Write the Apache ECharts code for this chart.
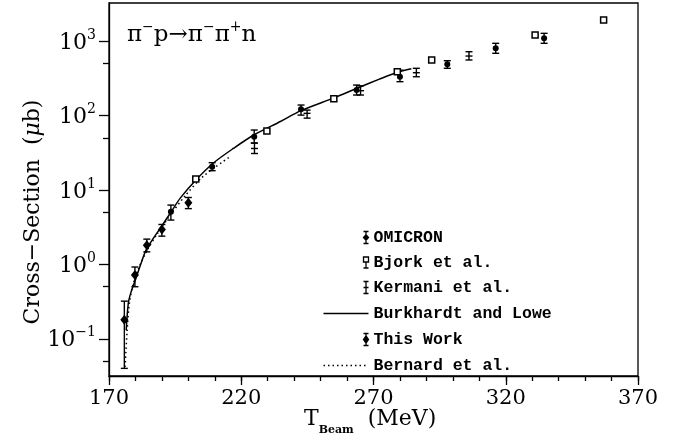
<!DOCTYPE html>
<html><head><meta charset="utf-8">
<script src="https://cdn.jsdelivr.net/npm/echarts@6/dist/echarts.min.js"></script>
<style>html,body{margin:0;padding:0;background:#fff}#c{width:683px;height:439px}</style>
</head><body><div id="c"></div>
<script>
// ---- axis ticks ----
const xTicks = [170, 220, 270, 320, 370];
const yTicks = [0.1, 1, 10, 100, 1000];
const yTickExp = ['\u22121', '0', '1', '2', '3'];
const yMinorTicks = [0.05, 0.5, 5, 50, 500];

// ---- OMICRON (filled dots with error bars) ----
const omicronT  = [193.4, 209.0, 224.9, 242.6, 263.6, 280.0, 297.9, 316.2, 334.5];
const omicronY  = [5.1, 20.4, 51.7, 121, 219, 331, 487, 797, 1087];
const omicronLo = [3.93, 18.1, 42.6, 101, 188, 284, 430, 684, 931];
const omicronHi = [6.25, 23.2, 63.7, 138, 256, 406, 544, 931, 1268];

// ---- Bjork et al. (open squares) ----
const bjorkT = [202.8, 229.7, 255.0, 279.0, 292.0, 331.1, 357.0];
const bjorkY = [14.0, 62, 167, 387, 556, 1204, 1914];

// ---- Kermani et al. (error bars with centre dash) ----
const kermaniT  = [225.0, 244.9, 265.1, 286.2, 306.1];
const kermaniY  = [36.0, 106.7, 215, 375, 628];
const kermaniLo = [30.8, 92, 188, 331, 556];
const kermaniHi = [42.5, 118, 250, 430, 718];

// ---- This Work (diamonds with error bars) ----
const thisWorkT  = [175.8, 179.8, 184.3, 190.0, 200.0];
const thisWorkY  = [0.18, 0.72, 1.8, 2.94, 6.7];
const thisWorkLo = [0.040, 0.50, 1.47, 2.39, 5.6];
const thisWorkHi = [0.32, 0.92, 2.18, 3.43, 7.9];

// ---- Burkhardt and Lowe (solid curve) ----
const burkT = [176.5, 177.3, 178.3, 180, 182, 184, 187, 190, 193.4, 197, 203.2, 209.5, 217, 224.9, 234.8, 242.6, 255, 263.8, 272, 279, 284.3];
const burkY = [0.13, 0.30, 0.42, 0.62, 1.0, 1.55, 2.3, 3.3, 5.0, 7.8, 14, 23, 36, 55, 83, 116, 172, 232, 305, 380, 425];

// ---- Bernard et al. (dotted curve) ----
const bernT = [176.1, 176.8, 177.7, 179, 181, 184, 188, 193, 199, 205, 210, 215.8];
const bernY = [0.042, 0.12, 0.30, 0.52, 0.85, 1.45, 2.5, 4.5, 8.5, 14.5, 20, 28];

const serif = 'DejaVu Serif';
const zip2 = (a, b) => a.map((v, i) => [v, b[i]]);
const zipErr = (t, lo, hi, mid) => t.map((v, i) => [v, lo[i], hi[i], mid ? mid[i] : hi[i]]);

function errRender(withMid) {
  return function (params, api) {
    const x = api.value(0), lo = api.value(1), hi = api.value(2), mid = api.value(3);
    const pHi = api.coord([x, hi]), pLo = api.coord([x, lo]);
    const w = 3.5;
    const style = { stroke: '#000', lineWidth: 1.4, fill: null };
    const children = [
      { type: 'line', shape: { x1: pHi[0], y1: pHi[1], x2: pLo[0], y2: pLo[1] }, style },
      { type: 'line', shape: { x1: pHi[0] - w, y1: pHi[1], x2: pHi[0] + w, y2: pHi[1] }, style },
      { type: 'line', shape: { x1: pLo[0] - w, y1: pLo[1], x2: pLo[0] + w, y2: pLo[1] }, style }
    ];
    if (withMid) {
      const pm = api.coord([x, mid]);
      children.push({ type: 'line', shape: { x1: pm[0] - w, y1: pm[1], x2: pm[0] + w, y2: pm[1] }, style });
    }
    return { type: 'group', children };
  };
}

const iconBase = 'path://M0,0M45,14M40,1L45,1M42.5,1L42.5,13M40,13L45,13';
const lineIcon = 'path://M0,0M45,14M0,7L45,7';
const blackIcon = { color: '#000', borderColor: '#000', borderWidth: 1.3 };

const chart = echarts.init(document.getElementById('c'), null, { renderer: 'canvas' });
chart.setOption({
  animation: false,
  backgroundColor: '#fff',
  grid: { left: 109, right: 45, top: 3, bottom: 63, show: true, borderColor: '#000', borderWidth: 1.3, backgroundColor: 'transparent' },
  xAxis: [
    {
      type: 'value', min: 170, max: 370, position: 'bottom',
      axisLine: { show: true, lineStyle: { color: '#000', width: 1.3 } },
      axisTick: { show: true, inside: false, length: 9, customValues: xTicks, lineStyle: { color: '#000', width: 1.3 } },
      axisLabel: { customValues: xTicks, margin: 12, color: '#000', fontFamily: serif, fontSize: 21 },
      splitLine: { show: false }
    },
    {
      type: 'value', min: 170, max: 370, interval: 10, position: 'bottom',
      axisLine: { show: false },
      axisTick: { show: true, inside: false, length: 5, lineStyle: { color: '#000', width: 1.3 } },
      axisLabel: { show: false },
      splitLine: { show: false }
    }
  ],
  yAxis: [
    {
      type: 'log', logBase: 10, min: 0.0316, max: 3240, position: 'left',
      axisLine: { show: true, lineStyle: { color: '#000', width: 1.3 } },
      axisTick: { show: true, inside: false, length: 10, customValues: yTicks, lineStyle: { color: '#000', width: 1.3 } },
      axisLabel: {
        customValues: yTicks, margin: 13, color: '#000',
        formatter: function (v) {
          const i = yTicks.findIndex(t => Math.abs(Math.log10(t) - Math.log10(v)) < 1e-6);
          return '{b|10}{s|' + (i >= 0 ? yTickExp[i] : '') + '}';
        },
        rich: {
          b: { fontFamily: serif, fontSize: 22, color: '#000', lineHeight: 26, verticalAlign: 'bottom' },
          s: { fontFamily: serif, fontSize: 14, color: '#000', lineHeight: 26, verticalAlign: 'top' }
        }
      },
      splitLine: { show: false }
    },
    {
      type: 'log', logBase: 10, min: 0.0316, max: 3240, position: 'left',
      axisLine: { show: false },
      axisTick: { show: true, inside: false, length: 6, customValues: yMinorTicks, lineStyle: { color: '#000', width: 1.3 } },
      axisLabel: { show: false },
      splitLine: { show: false }
    }
  ],
  legend: {
    orient: 'vertical', left: 316, top: 224, itemWidth: 45, itemHeight: 14, itemGap: 8,
    textStyle: { fontFamily: 'Liberation Mono', fontSize: 16.5, fontWeight: 'bold', color: '#000', lineHeight: 16 },
    selectedMode: false,
    data: [
      { name: 'OMICRON', icon: iconBase + 'M42.5,4.3L45,7L42.5,9.7L40,7Z', itemStyle: blackIcon },
      { name: 'Bjork et al.', icon: 'path://M0,0M45,14M40,1.5L45,1.5L45,6.5L40,6.5ZM42.5,6.5L42.5,12.5M40,12.5L45,12.5', itemStyle: { color: '#fff', borderColor: '#000', borderWidth: 1.3 } },
      { name: 'Kermani et al.', icon: iconBase + 'M40,7L45,7', itemStyle: blackIcon },
      { name: 'Burkhardt and Lowe', icon: lineIcon, itemStyle: { color: 'none', borderColor: '#000', borderWidth: 1.5 } },
      { name: 'This Work', icon: iconBase + 'M42.5,3.3L45,7L42.5,10.7L40,7Z', itemStyle: blackIcon },
      { name: 'Bernard et al.', icon: lineIcon, itemStyle: { color: 'none', borderColor: '#000', borderWidth: 1.5, borderType: [1.5, 3] } }
    ]
  },
  series: [
    {
      name: 'Burkhardt and Lowe', type: 'line', xAxisIndex: 0, yAxisIndex: 0,
      data: zip2(burkT, burkY), smooth: 0.3, symbol: 'none',
      lineStyle: { color: '#000', width: 1.5 }, itemStyle: { color: '#000' }, z: 2
    },
    {
      name: 'Bernard et al.', type: 'line', xAxisIndex: 0, yAxisIndex: 0,
      data: zip2(bernT, bernY), smooth: 0.3, symbol: 'none',
      lineStyle: { color: '#000', width: 1.5, type: [1.5, 3] }, itemStyle: { color: '#000' }, z: 2
    },
    {
      name: 'OMICRON', type: 'custom', xAxisIndex: 0, yAxisIndex: 0,
      renderItem: errRender(false), data: zipErr(omicronT, omicronLo, omicronHi),
      encode: { x: 0, y: [1, 2] }, itemStyle: { color: '#000' }, z: 3
    },
    {
      name: 'OMICRON', type: 'scatter', xAxisIndex: 0, yAxisIndex: 0,
      data: zip2(omicronT, omicronY), symbol: 'circle', symbolSize: 6,
      itemStyle: { color: '#000', opacity: 1 }, z: 4
    },
    {
      name: 'Bjork et al.', type: 'scatter', xAxisIndex: 0, yAxisIndex: 0,
      data: zip2(bjorkT, bjorkY), symbol: 'rect', symbolSize: 6,
      itemStyle: { color: '#fff', borderColor: '#000', borderWidth: 1.5, opacity: 1 }, z: 4
    },
    {
      name: 'Kermani et al.', type: 'custom', xAxisIndex: 0, yAxisIndex: 0,
      renderItem: errRender(true), data: zipErr(kermaniT, kermaniLo, kermaniHi, kermaniY),
      encode: { x: 0, y: [1, 2] }, itemStyle: { color: '#000' }, z: 3
    },
    {
      name: 'This Work', type: 'custom', xAxisIndex: 0, yAxisIndex: 0,
      renderItem: errRender(false), data: zipErr(thisWorkT, thisWorkLo, thisWorkHi),
      encode: { x: 0, y: [1, 2] }, itemStyle: { color: '#000' }, z: 3
    },
    {
      name: 'This Work', type: 'scatter', xAxisIndex: 0, yAxisIndex: 0,
      data: zip2(thisWorkT, thisWorkY), symbol: 'diamond', symbolSize: [8, 10],
      itemStyle: { color: '#000', opacity: 1 }, z: 4
    }
  ],
  graphic: [
    {
      type: 'text', left: 127, top: 20,
      style: {
        text: '{m|\u03c0}{s|\u2212}{m|p\u2192\u03c0}{s|\u2212}{m|\u03c0}{s|+}{m|n}',
        rich: {
          m: { fontFamily: serif, fontSize: 23, fill: '#000', lineHeight: 27, verticalAlign: 'bottom' },
          s: { fontFamily: serif, fontSize: 14, fill: '#000', lineHeight: 27, verticalAlign: 'top' }
        }
      }
    },
    {
      type: 'text', x: 33, y: 212, rotation: Math.PI / 2,
      style: {
        text: '{n|Cross\u2212Section  (}{i|\u03bc}{n|b)}',
        align: 'center', verticalAlign: 'middle',
        rich: {
          n: { fontFamily: serif, fontSize: 22, fill: '#000' },
          i: { fontFamily: serif, fontSize: 22, fill: '#000', fontStyle: 'italic' }
        }
      }
    },
    {
      type: 'text', left: 304, top: 408,
      style: {
        text: '{t|T}{b|Beam}{t|  (MeV)}',
        rich: {
          t: { fontFamily: serif, fontSize: 22, fill: '#000', lineHeight: 28, verticalAlign: 'top' },
          b: { fontFamily: serif, fontSize: 11, fontWeight: 'bold', fill: '#000', lineHeight: 28, verticalAlign: 'bottom' }
        }
      }
    }
  ]
});
</script>
</body></html>
